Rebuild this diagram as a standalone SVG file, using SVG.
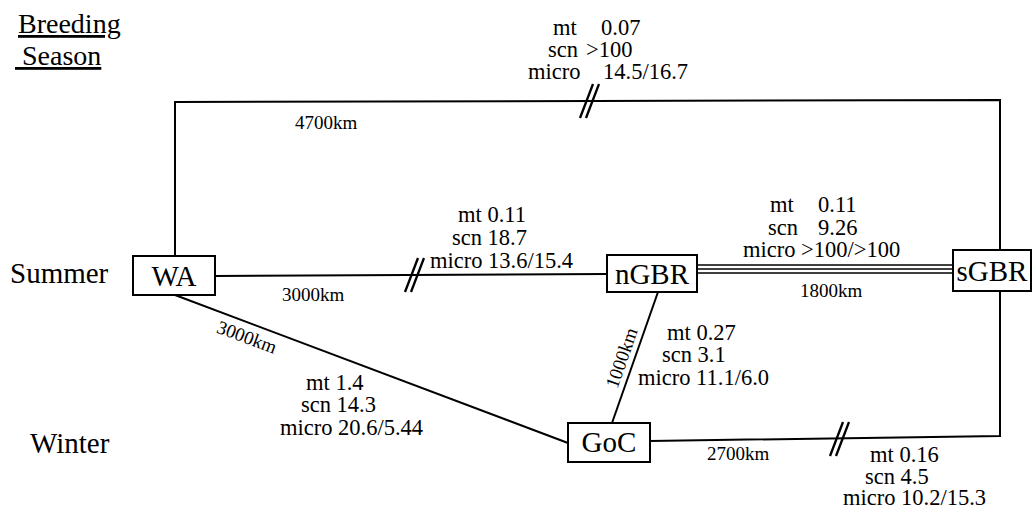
<svg xmlns="http://www.w3.org/2000/svg" xmlns:xlink="http://www.w3.org/1999/xlink" width="1033" height="509" viewBox="0 0 1033 509" font-family="'Liberation Serif', 'DejaVu Serif', 'Times New Roman', serif">
<style>
  text { font-family: 'Liberation Serif', 'DejaVu Serif', 'Times New Roman', serif; fill: #000; }
  .node rect { fill: #fff; stroke: #000; stroke-width: 2; }
  .node text { font-size: 29px; text-anchor: middle; }
  .side { font-size: 29px; }
  .head { font-size: 28px; text-decoration: underline; }
  .lab { font-size: 22.5px; }
  .km { font-size: 19px; }
  .conn { fill: none; stroke: #000; stroke-width: 2; }
  .thin { fill: none; stroke: #000; stroke-width: 1.7; }
  .brk { fill: none; stroke: #000; stroke-width: 2.3; }
</style>
<defs>
  <g id="break">
    <path class="brk" d="M5,-17 L-8,17 M11,-17 L-2,17"/>
  </g>
</defs>
<rect x="0" y="0" width="1033" height="509" fill="#fff"/>

<text class="head" x="18" y="33">Breeding</text>
<text class="head" x="15" y="65" xml:space="preserve"> Season</text>
<text class="side" x="10" y="283">Summer</text>
<text class="side" x="30" y="453">Winter</text>

<g id="connectors">
  <polyline class="conn" points="175,256 175,102 1000,100 1000,250"/>
  <line class="conn" x1="215" y1="276" x2="607" y2="274"/>
  <use xlink:href="#break" href="#break" x="413" y="275"/>
  <use xlink:href="#break" href="#break" x="588" y="101"/>
  <line class="thin" x1="697" y1="265" x2="953" y2="265"/>
  <line class="thin" x1="697" y1="269" x2="953" y2="269"/>
  <line class="thin" x1="697" y1="273" x2="953" y2="273"/>
  <line class="conn" x1="175" y1="295" x2="568" y2="443" stroke-width="2.6"/>
  <line class="conn" x1="658" y1="292" x2="612" y2="423"/>
  <polyline class="conn" points="650,441 1000,436 1000,291"/>
  <use xlink:href="#break" href="#break" x="838" y="439"/>
</g>

<g id="edge-labels">
  <text class="lab" y="35"><tspan x="553">mt</tspan><tspan x="601">0.07</tspan></text>
  <text class="lab" y="57"><tspan x="548">scn</tspan><tspan x="586">&gt;100</tspan></text>
  <text class="lab" y="79"><tspan x="528">micro</tspan><tspan x="603">14.5/16.7</tspan></text>
  <text class="km" x="295" y="129">4700km</text>

  <text class="lab" x="458" y="222">mt  0.11</text>
  <text class="lab" x="452" y="245">scn 18.7</text>
  <text class="lab" x="430" y="268">micro 13.6/15.4</text>
  <text class="km" x="282" y="301">3000km</text>

  <text class="lab" y="212"><tspan x="770">mt</tspan><tspan x="818">0.11</tspan></text>
  <text class="lab" y="235"><tspan x="768">scn</tspan><tspan x="818">9.26</tspan></text>
  <text class="lab" x="743" y="257">micro &gt;100/&gt;100</text>
  <text class="km" x="800" y="297">1800km</text>

  <text class="lab" x="667" y="340">mt 0.27</text>
  <text class="lab" x="662" y="362">scn 3.1</text>
  <text class="lab" x="638" y="385">micro 11.1/6.0</text>
  <text class="km" transform="translate(622,358) rotate(-70.6)" x="0" y="6" text-anchor="middle">1000km</text>

  <text class="lab" x="306" y="390">mt 1.4</text>
  <text class="lab" x="301" y="412">scn 14.3</text>
  <text class="lab" x="280" y="435">micro 20.6/5.44</text>
  <text class="km" transform="translate(247,337) rotate(20.6)" x="0" y="6.5" text-anchor="middle">3000km</text>

  <text class="km" x="707" y="460">2700km</text>
  <text class="lab" x="870" y="462">mt 0.16</text>
  <text class="lab" x="865" y="484">scn 4.5</text>
  <text class="lab" x="843" y="505">micro 10.2/15.3</text>
</g>

<g id="node-WA" class="node">
  <rect x="133" y="256" width="82" height="39"/>
  <text x="174" y="286">WA</text>
</g>
<g id="node-nGBR" class="node">
  <rect x="607" y="255" width="90" height="37"/>
  <text x="652" y="284">nGBR</text>
</g>
<g id="node-sGBR" class="node">
  <rect x="953" y="250" width="78" height="41"/>
  <text x="992" y="281">sGBR</text>
</g>
<g id="node-GoC" class="node">
  <rect x="568" y="423" width="82" height="39"/>
  <text x="609" y="452">GoC</text>
</g>
</svg>
